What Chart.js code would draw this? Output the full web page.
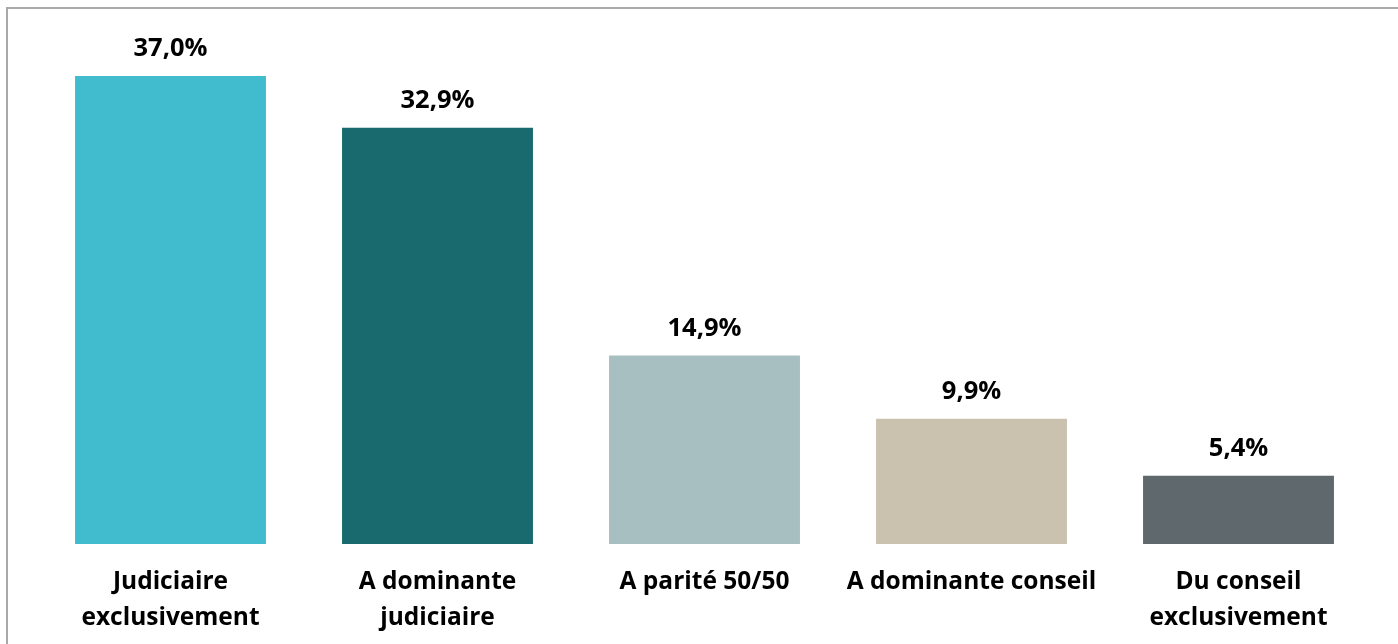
<!DOCTYPE html>
<html>
<head>
<meta charset="utf-8">
<script src="https://cdn.jsdelivr.net/npm/chart.js@4.4.1/dist/chart.umd.min.js"></script>
<style>
  html, body { margin: 0; padding: 0; background: #fff; }
  #wrap { position: relative; width: 1398px; height: 644px; overflow: hidden; }
  #frame { position: absolute; left: 6px; top: 7px; width: 1500px; height: 800px;
           border-left: 2px solid #a9a9a9; border-top: 2px solid #a9a9a9; }
  canvas { position: absolute; left: 0; top: 0; }
</style>
</head>
<body>
<div id="wrap">
  <div id="frame"></div>
  <canvas id="chart" width="1398" height="644"></canvas>
</div>
<script>
var categories = [
  ["Judiciaire", "exclusivement"],
  ["A dominante", "judiciaire"],
  "A parité 50/50",
  "A dominante conseil",
  ["Du conseil", "exclusivement"]
];
var shares = [37.0, 32.9, 14.9, 9.9, 5.4];
var barColors = ["#41bbce", "#186a6e", "#a7bfc0", "#cac1af", "#5e686d"];

var FONT = "'Open Sans', 'Noto Sans', sans-serif";

function fmt(v) {
  return v.toFixed(1).replace(".", ",") + "%";
}

// draws the value above each bar
var valueLabels = {
  id: "valueLabels",
  afterDatasetsDraw: function (chart) {
    var ctx = chart.ctx;
    var meta = chart.getDatasetMeta(0);
    ctx.save();
    ctx.font = "bold 25.5px " + FONT;
    ctx.fillStyle = "#000";
    ctx.textAlign = "center";
    ctx.textBaseline = "alphabetic";
    meta.data.forEach(function (bar, i) {
      ctx.fillText(fmt(shares[i]), bar.x, bar.y - 20);
    });
    ctx.restore();
  }
};

var ctx = document.getElementById("chart").getContext("2d");
new Chart(ctx, {
  type: "bar",
  data: {
    labels: categories,
    datasets: [{
      data: shares,
      backgroundColor: barColors,
      borderWidth: 0,
      barPercentage: 0.715,
      categoryPercentage: 1
    }]
  },
  options: {
    responsive: false,
    animation: false,
    layout: { padding: { left: 37, right: 26, top: 38, bottom: 0 } },
    plugins: {
      legend: { display: false },
      tooltip: { enabled: false }
    },
    scales: {
      x: {
        grid: { display: false, drawTicks: false },
        border: { display: false },
        ticks: {
          color: "#000",
          padding: 20,
          maxRotation: 0,
          autoSkip: false,
          font: { family: FONT, size: 24.5, weight: "bold", lineHeight: 1.47 }
        },
        afterFit: function (scale) { scale.height = 100; }
      },
      y: {
        display: false,
        min: 0,
        max: 40
      }
    }
  },
  plugins: [valueLabels]
});
</script>
</body>
</html>
